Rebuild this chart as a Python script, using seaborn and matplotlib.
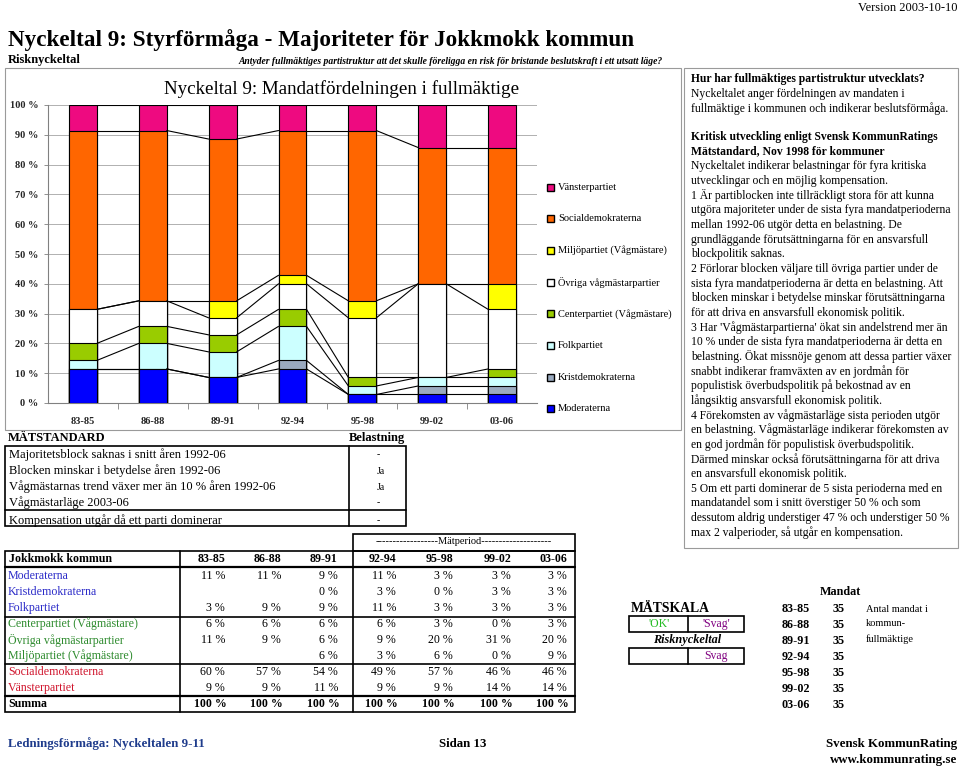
import numpy as np
import pandas as pd
import matplotlib
matplotlib.use("Agg")
import matplotlib.pyplot as plt
from matplotlib.patches import Rectangle
import seaborn as sns

# Mandatperioder och antal mandat i fullmäktige
PERIODS = ["83-85", "86-88", "89-91", "92-94", "95-98", "99-02", "03-06"]
TOTAL_SEATS = [35, 35, 35, 35, 35, 35, 35]

# Mandat per parti (None = partiet fanns inte med)
SEATS_M = [4, 4, 3, 4, 1, 1, 1]
SEATS_KD = [None, None, 0, 1, 0, 1, 1]
SEATS_FP = [1, 3, 3, 4, 1, 1, 1]
SEATS_C = [2, 2, 2, 2, 1, 0, 1]
SEATS_OVR = [4, 3, 2, 3, 7, 11, 7]
SEATS_MP = [None, None, 2, 1, 2, 0, 3]
SEATS_S = [21, 20, 19, 17, 20, 16, 16]
SEATS_V = [3, 3, 4, 3, 3, 5, 5]

PARTIES = [
    "Moderaterna",
    "Kristdemokraterna",
    "Folkpartiet",
    "Centerpartiet (Vågmästare)",
    "Övriga vågmästarpartier",
    "Miljöpartiet (Vågmästare)",
    "Socialdemokraterna",
    "Vänsterpartiet",
]
PARTY_SEATS = [SEATS_M, SEATS_KD, SEATS_FP, SEATS_C, SEATS_OVR, SEATS_MP, SEATS_S, SEATS_V]
BAR_COLORS = ["#0000FF", "#9AAABF", "#CCFFFF", "#99CC00", "#FFFFFF", "#FFFF00", "#FF6600", "#EE0A80"]
NAME_COLORS = ["#2B2BC8", "#2B2BC8", "#2B2BC8", "#2E8B2E", "#2E8B2E", "#2E8B2E", "#D0142C", "#D0142C"]

CRITERIA = [
    "Majoritetsblock saknas i snitt åren 1992-06",
    "Blocken minskar i betydelse åren 1992-06",
    "Vågmästarnas trend växer mer än 10 % åren 1992-06",
    "Vågmästarläge 2003-06",
    "Kompensation utgår då ett parti dominerar",
]
CRITERIA_LOAD = ["-", "Ja", "Ja", "-", "-"]

INFO_HEAD = [
    ("Hur har fullmäktiges partistruktur utvecklats?", True),
    ("Nyckeltalet anger fördelningen av mandaten i", False),
    ("fullmäktige i kommunen och indikerar beslutsförmåga.", False),
]
INFO_BODY = [
    ("Kritisk utveckling enligt Svensk KommunRatings", True),
    ("Mätstandard, Nov 1998 för kommuner", True),
    ("Nyckeltalet indikerar belastningar för fyra kritiska", False),
    ("utvecklingar och en möjlig kompensation.", False),
    ("1 Är partiblocken inte tillräckligt stora för att kunna", False),
    ("utgöra majoriteter under de sista fyra mandatperioderna", False),
    ("mellan 1992-06 utgör detta en belastning. De", False),
    ("grundläggande förutsättningarna för en ansvarsfull", False),
    ("blockpolitik saknas.", False),
    ("2 Förlorar blocken väljare till övriga partier under de", False),
    ("sista fyra mandatperioderna är detta en belastning. Att", False),
    ("blocken minskar i betydelse minskar förutsättningarna", False),
    ("för att driva en ansvarsfull ekonomisk politik.", False),
    ("3 Har 'Vågmästarpartierna' ökat sin andelstrend mer än", False),
    ("10 % under de sista fyra mandatperioderna är detta en", False),
    ("belastning. Ökat missnöje genom att dessa partier växer", False),
    ("snabbt indikerar framväxten av en jordmån för", False),
    ("populistisk överbudspolitik på bekostnad av en", False),
    ("långsiktig ansvarsfull ekonomisk politik.", False),
    ("4 Förekomsten av vågmästarläge sista perioden utgör", False),
    ("en belastning. Vågmästarläge indikerar förekomsten av", False),
    ("en god jordmån för populistisk överbudspolitik.", False),
    ("Därmed minskar också förutsättningarna för att driva", False),
    ("en ansvarsfull ekonomisk politik.", False),
    ("5 Om ett parti dominerar de 5 sista perioderna med en", False),
    ("mandatandel som i snitt överstiger 50 % och som", False),
    ("dessutom aldrig understiger 47 % och understiger 50 %", False),
    ("max 2 valperioder, så utgår en kompensation.", False),
]

SERIF = "Liberation Serif"

sns.set_theme(style="white")
plt.rcParams["font.family"] = [SERIF, "DejaVu Serif"]

# andelar i procent
seats = pd.DataFrame(
    {p: pd.Series(s, index=PERIODS, dtype="float") for p, s in zip(PARTIES, PARTY_SEATS)}
)
shares = seats.div(pd.Series(TOTAL_SEATS, index=PERIODS), axis=0) * 100
cum = shares.fillna(0).cumsum(axis=1)

fig = plt.figure(figsize=(9.6, 7.66), dpi=100)
page = fig.add_axes([0, 0, 1, 1], zorder=0)
page.set_xlim(0, 960)
page.set_ylim(766, 0)
page.axis("off")


def txt(x, y, s, size=9, weight="normal", style="normal", color="black", ha="left", **kw):
    page.text(x, y, s, fontsize=size, fontweight=weight, fontstyle=style,
              color=color, ha=ha, va="center", **kw)


def box(x0, y0, x1, y1, lw=1.2, color="black"):
    page.add_patch(Rectangle((x0, y0), x1 - x0, y1 - y0, fill=False, lw=lw, ec=color))


def hline(x0, x1, y, lw=1.2):
    page.plot([x0, x1], [y, y], color="black", lw=lw)


def vline(x, y0, y1, lw=1.2):
    page.plot([x, x], [y0, y1], color="black", lw=lw)


# sidhuvud
txt(8, 40, "Nyckeltal 9: Styrförmåga - Majoriteter för Jokkmokk kommun", size=16.7, weight="bold")
txt(957, 8, "Version 2003-10-10", size=9, ha="right")
txt(8, 60, "Risknyckeltal", size=9, weight="bold")
txt(238, 62, "Antyder fullmäktiges partistruktur att det skulle föreligga en risk för bristande "
    "beslutskraft i ett utsatt läge?", size=6.95, weight="bold", style="italic")

# ram runt diagrammet och textrutan
box(5, 68, 681, 430, lw=0.8, color="#9A9A9A")
box(684, 68, 958, 548, lw=0.8, color="#9A9A9A")
txt(342, 89, "Nyckeltal 9: Mandatfördelningen i fullmäktige", size=13.7, ha="center")

# diagram
ax = fig.add_axes([48 / 960, 1 - 403 / 766, (537 - 48) / 960, (403 - 105) / 766], zorder=1)
ax.patch.set_alpha(0)
for k in reversed(range(len(PARTIES))):
    sns.barplot(x=PERIODS, y=cum.iloc[:, k].to_numpy(), color=BAR_COLORS[k], saturation=1,
                width=0.4, edgecolor="black", linewidth=0.8, ax=ax, zorder=3)

xs = np.arange(len(PERIODS))
for k in range(len(PARTIES)):
    lvl = cum.iloc[:, k].to_numpy()
    for i in range(len(PERIODS) - 1):
        ax.plot([xs[i] + 0.2, xs[i + 1] - 0.2], [lvl[i], lvl[i + 1]],
                color="black", lw=0.8, zorder=4)

ax.set_xlim(-0.5, len(PERIODS) - 0.5)
ax.set_ylim(0, 100)
ax.set_yticks(np.arange(0, 101, 10))
ax.set_yticklabels([f"{v} %" for v in range(0, 101, 10)], fontsize=7.5, fontweight="bold")
ax.set_xticks(xs)
ax.set_xticklabels(PERIODS, fontsize=7.5, fontweight="bold")
ax.set_xticks(np.arange(0.5, len(PERIODS) - 0.5, 1), minor=True)
ax.tick_params(axis="x", which="major", length=0, pad=10)
ax.tick_params(axis="x", which="minor", length=4, width=0.6, color="#808080", bottom=True)
ax.tick_params(axis="y", length=3, width=0.6, left=True, color="#808080", pad=4)
ax.yaxis.grid(True, color="#B0B0B0", lw=0.7, zorder=0)
ax.set_axisbelow(True)
for side in ["top", "right"]:
    ax.spines[side].set_visible(False)
for side in ["left", "bottom"]:
    ax.spines[side].set_color("#808080")
    ax.spines[side].set_linewidth(0.8)
ax.set_xlabel("")
ax.set_ylabel("")

# förklaring
for j, k in enumerate(reversed(range(len(PARTIES)))):
    y = 187 + j * 31.7
    page.add_patch(Rectangle((547, y - 3.5), 7, 7, fc=BAR_COLORS[k], ec="black", lw=1.0))
    txt(558, y, PARTIES[k], size=7.5)

# textruta till höger
y = 79
for line, bold in INFO_HEAD:
    txt(691, y, line, size=8.4, weight="bold" if bold else "normal")
    y += 15
y = 137
for line, bold in INFO_BODY:
    txt(691, y, line, size=8.4, weight="bold" if bold else "normal")
    y += 14.65

# mätstandard
txt(8, 438, "MÄTSTANDARD", size=9, weight="bold")
txt(405, 438, "Belastning", size=9, weight="bold", ha="right")
box(5, 446, 406, 526)
vline(349, 446, 526)
hline(5, 406, 510)
for i, (crit, load) in enumerate(zip(CRITERIA, CRITERIA_LOAD)):
    yy = 455 + i * 16 + (2 if i == 4 else 0)
    txt(9, yy, crit, size=9)
    txt(377, yy, load, size=7)

# tabell med andelar
col_x = [211, 267, 324, 382, 439, 497, 553]
box(353, 534, 575, 551)
txt(464, 542, "------------------Mätperiod--------------------", size=7.5, ha="center")
box(5, 551, 575, 712)
vline(180, 551, 712)
vline(353, 551, 712)
hline(5, 575, 567, lw=1.6)
hline(5, 575, 617)
hline(5, 575, 664)
hline(5, 575, 696, lw=1.6)
txt(9, 559, "Jokkmokk kommun", size=8.6, weight="bold")
for cx, per in zip(col_x, PERIODS):
    txt(cx, 559, per, size=8.6, weight="bold", ha="center")
row_y = [576, 592, 608, 624, 640, 656, 672, 688]
for k, party in enumerate(PARTIES):
    txt(8, row_y[k], party, size=8.6, color=NAME_COLORS[k])
    for cx, val in zip(col_x, shares[party].to_numpy()):
        if not np.isnan(val):
            txt(cx + 14, row_y[k], f"{val:.0f} %", size=8.6, ha="right")
txt(8, 704, "Summa", size=8.6, weight="bold")
for cx, per in zip(col_x, PERIODS):
    txt(cx + 16, 704, f"{shares.loc[per].sum():.0f} %", size=8.6, weight="bold", ha="right")

# mätskala
txt(670, 608, "MÄTSKALA", size=9.8, weight="bold", ha="center")
box(629, 616, 744, 632)
vline(688, 616, 632)
txt(659, 624, "'OK'", size=8.5, color="#22BB22", ha="center")
txt(716, 624, "'Svag'", size=8.5, color="#800080", ha="center")
txt(687, 640, "Risknyckeltal", size=8.8, weight="bold", style="italic", ha="center")
box(629, 648, 744, 664)
vline(688, 648, 664)
txt(716, 656, "Svag", size=8.5, color="#800080", ha="center")

# mandat
txt(840, 592, "Mandat", size=8.7, weight="bold", ha="center")
for i, (per, n) in enumerate(zip(PERIODS, TOTAL_SEATS)):
    yy = 609 + i * 16
    txt(782, yy, per, size=8.7, weight="bold")
    txt(839, yy, str(n), size=8.7, weight="bold", ha="center")
txt(866, 609, "Antal mandat i", size=7.5)
txt(866, 624, "kommun-", size=7.5)
txt(866, 639, "fullmäktige", size=7.5)

# sidfot
txt(8, 744, "Ledningsförmåga: Nyckeltalen 9-11", size=9.3, weight="bold", color="#1F3C8C")
txt(463, 744, "Sidan 13", size=9.3, weight="bold", ha="center")
txt(957, 744, "Svensk KommunRating", size=9.3, weight="bold", ha="right")
txt(957, 760, "www.kommunrating.se", size=9.3, weight="bold", ha="right")

fig.savefig("out.png", dpi=100)
